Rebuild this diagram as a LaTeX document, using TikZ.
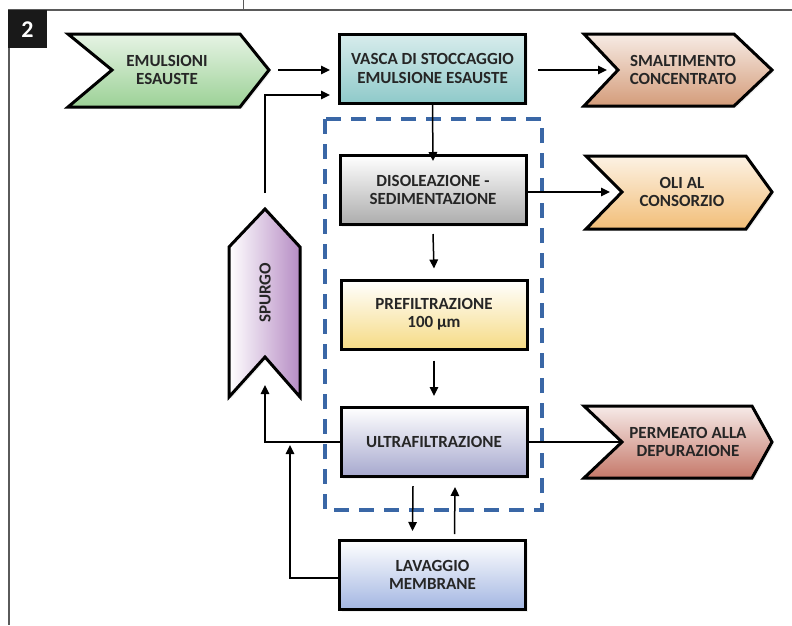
\documentclass[tikz,border=0pt]{standalone}
\usepackage{fontspec}
\setmainfont{Carlito}
\usetikzlibrary{arrows.meta,shadows}
\definecolor{framegray}{HTML}{5A5A5A}
\definecolor{dashblue}{HTML}{3A67A6}
\definecolor{emgreen}{HTML}{9CD196}
\definecolor{vateal}{HTML}{8FCACA}
\definecolor{smbrown}{HTML}{D49C7A}
\definecolor{disgray}{HTML}{ACACAC}
\definecolor{oliorange}{HTML}{F2BE78}
\definecolor{preyellow}{HTML}{F6DB85}
\definecolor{ultralav}{HTML}{A6A8CE}
\definecolor{permred}{HTML}{C57869}
\definecolor{lavblue}{HTML}{A3B6E2}
\definecolor{spurple}{HTML}{B68CC4}
\tikzset{
  lbl/.style={font=\bfseries\fontsize{17}{18.5}\selectfont, align=center, text=black!85},
  outl/.style={draw=black, line width=3pt, line join=miter,
    drop shadow={shadow xshift=2pt, shadow yshift=-2pt, opacity=0.12}},
  procbox/.style={outl, minimum width=186pt, minimum height=69pt, inner sep=0pt, lbl},
  conn/.style={line width=1.5pt, -{Triangle[length=9pt,width=8.5pt]}},
  plainline/.style={line width=1.5pt},
}
\begin{document}
\begin{tikzpicture}[x=1pt,y=-1pt]
\useasboundingbox (0,0) rectangle (792,625);
% frame
\draw[framegray, line width=1.5pt] (8,10) -- (792,10);
\draw[framegray, line width=1pt] (243,0) -- (243,10);
\draw[framegray, line width=2pt] (9,10) -- (9,625);
\fill[black!90] (8,10) rectangle (47,48);
\node[text=white, font=\bfseries\fontsize{24}{26}\selectfont] (badge) at (27.5,29.5) {2};

% dashed group
\draw[dashblue, line width=3.5pt, dash pattern=on 15pt off 10pt] (325,119) rectangle (542,510);

% chevrons
\path[outl, top color=emgreen!25, bottom color=emgreen]
  (68,34) -- (240,34) -- (269,70) -- (240,107) -- (68,107) -- (112,70) -- cycle;
\coordinate (emtip) at (269,70);
\node[lbl] (emul) at (167,70) {EMULSIONI\\ESAUSTE};

\path[outl, top color=smbrown!20, bottom color=smbrown]
  (584,34) -- (734,34) -- (772,70) -- (734,106) -- (584,106) -- (618,70) -- cycle;
\coordinate (smnotch) at (618,70);
\node[lbl] (smalt) at (683,70) {SMALTIMENTO\\CONCENTRATO};

\path[outl, top color=oliorange!20, bottom color=oliorange]
  (586,156) -- (746,156) -- (772,192) -- (746,229) -- (586,229) -- (622,192) -- cycle;
\coordinate (olinotch) at (622,192);
\node[lbl] (oli) at (682,192) {OLI AL\\CONSORZIO};

\path[outl, top color=permred!15, bottom color=permred]
  (584,406) -- (752,406) -- (772,442) -- (752,478) -- (584,478) -- (622,442) -- cycle;
\coordinate (permnotch) at (622,442);
\node[lbl] (perm) at (688,442) {PERMEATO ALLA\\DEPURAZIONE};

\path[outl, left color=white, right color=spurple]
  (265,209) -- (300,247) -- (300,397) -- (265,357) -- (229,397) -- (229,247) -- cycle;
\coordinate (sptip) at (265,209);
\coordinate (spnotch) at (265,357);
\node[lbl, rotate=90] (spurgo) at (265,293) {SPURGO};

% process boxes
\node[procbox, top color=vateal!35, bottom color=vateal] (vasca) at (432.5,68.5) {VASCA DI STOCCAGGIO\\EMULSIONE ESAUSTE};
\node[procbox, top color=white, bottom color=disgray] (diso) at (433,190) {DISOLEAZIONE -\\SEDIMENTAZIONE};
\node[procbox, top color=white, bottom color=preyellow] (prefil) at (434,314.5) {PREFILTRAZIONE\\100 µm};
\node[procbox, top color=white, bottom color=ultralav] (ultra) at (434,442) {ULTRAFILTRAZIONE};
\node[procbox, top color=white, bottom color=lavblue] (lav) at (432.5,575) {LAVAGGIO\\MEMBRANE};

% connectors
\draw[conn, shorten <=9pt, shorten >=8pt] (emtip) -- (emtip -| vasca.west);
\coordinate (spin) at (330,95);
\draw[conn, shorten <=16pt, shorten >=8pt] (sptip) |- (vasca.west |- spin);
\draw[conn, shorten <=11pt, shorten >=11pt] (vasca.east |- smnotch) -- (smnotch);
\draw[conn, shorten >=1pt] (vasca.south) -- ([yshift=-8pt]diso.north);
\draw[conn] ([yshift=-8pt]diso.south) -- ([yshift=10pt]prefil.north);
\draw[conn] ([yshift=-10pt]prefil.south) -- ([yshift=10pt]ultra.north);
\draw[conn, shorten >=12pt] (diso.east |- olinotch) -- (olinotch);
\draw[plainline] (ultra.east) -- (permnotch);
\draw[conn, shorten >=28pt] (ultra.west) -| (spnotch);
\coordinate (join) at (290,442);
\draw[conn, shorten >=3pt] ([yshift=-3pt]lav.west) -| (join);
\draw[conn] ([xshift=-21pt, yshift=-8pt]ultra.south) -- ([xshift=-20pt, yshift=8pt]lav.north);
\draw[conn] ([xshift=22pt, yshift=5pt]lav.north) -- ([xshift=21pt, yshift=-9pt]ultra.south);
\end{tikzpicture}
\end{document}
